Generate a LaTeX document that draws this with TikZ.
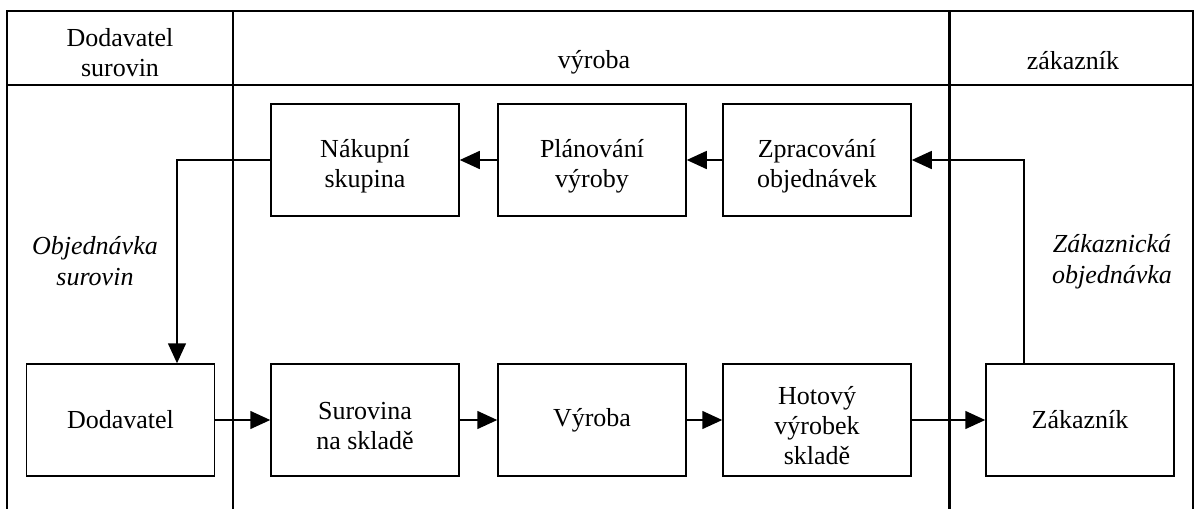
\documentclass[tikz,border=0pt]{standalone}
\usepackage{fontspec}
\setmainfont{Liberation Serif}
\usetikzlibrary{arrows.meta}
\newcommand\mystrut{\rule{0pt}{15pt}}
\begin{document}
\begin{tikzpicture}[x=0.5pt,y=-0.5pt,
  txt/.style={font=\fontsize{13}{15}\selectfont,align=center,inner sep=0pt},
  box/.style={txt,draw,line width=0.75pt,minimum width=94pt,minimum height=56pt},
  lbl/.style={txt,font=\fontsize{13}{15.5}\selectfont\itshape},
  frame/.style={line width=0.75pt},
  thickframe/.style={line width=1.5pt},
  arr/.style={line width=0.75pt,-{Triangle[length=10pt,width=9pt]}}]
\useasboundingbox (0,0) rectangle (1195,509);
% frame
\draw[frame] (7,509) -- (7,11) -- (1193,11) -- (1193,509);
\draw[frame] (7,85) -- (1193,85);
\draw[frame] (233,11) -- (233,509);
\draw[thickframe] (949,11) -- (949,509);
% headers
\node[txt] (h1) at (120,53) {Dodavatel\\surovin};
\node[txt] (h2) at (594,62) {výroba};
\node[txt] (h3) at (1073,61) {zákazník};
% boxes
\node[box] (nak) at (365,160) {\mystrut Nákupní\\skupina};
\node[box] (plan) at (592,160) {\mystrut Plánování\\výroby};
\node[box] (zpr) at (817,160) {\mystrut Zpracování\\objednávek};
\node[box] (dod) at (120.5,420) {Dodavatel};
\node[box] (sur) at (365,420) {\mystrut Surovina\\na skladě};
\node[box] (vyr) at (592,420) {Výroba};
\node[box] (hot) at (817,420) {\mystrut Hotový\\výrobek\\skladě};
\node[box] (zak) at (1080,420) {Zákazník};
% labels
\node[lbl] (l1) at (95,261) {Objednávka\\surovin};
\node[lbl] (l2) at (1112,262) {Zákaznická\\objednávka};
% connectors
\draw[arr] (zpr) -- (plan);
\draw[arr] (plan) -- (nak);
\draw[arr] (nak.west) -| ([xshift=28.25pt]dod.north);
\draw[arr] ([xshift=-28pt]zak.north) |- (zpr.east);
\draw[arr] (dod) -- (sur);
\draw[arr] (sur) -- (vyr);
\draw[arr] (vyr) -- (hot);
\draw[arr] (hot) -- (zak);
\end{tikzpicture}
\end{document}
